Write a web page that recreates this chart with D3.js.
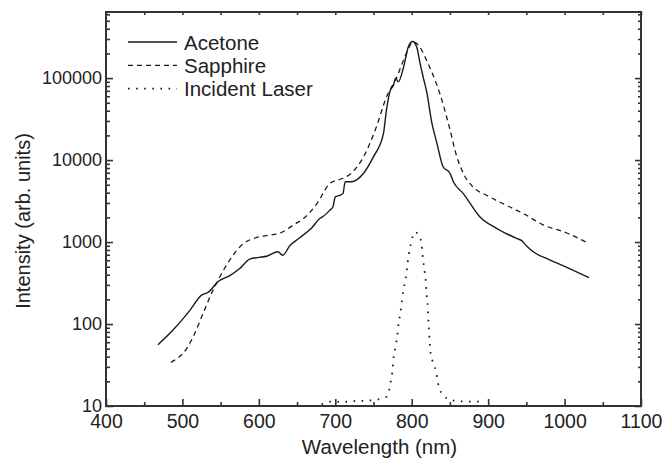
<!DOCTYPE html>
<html>
<head>
<meta charset="utf-8">
<script src="https://cdn.jsdelivr.net/npm/d3@7"></script>
<style>
  body { margin: 0; background: #fff; }
  text { font-family: "Liberation Sans", Arial, sans-serif; fill: #222; }
</style>
</head>
<body>
<div id="chart"></div>
<script>
// spectra (wavelength in nm, intensity arb. units)
var acetoneWl = [468, 488, 510, 525, 534, 547, 562, 575, 588, 600, 610, 625, 631, 641, 653, 669, 680, 684, 693, 697, 700, 706, 710, 713, 721, 737, 750, 763, 767, 772, 776, 779, 782.5, 789, 795.5, 801, 806.5, 811, 815, 820, 826, 833, 841, 850, 854.5, 867.5, 889, 911, 938, 944, 950, 959, 979, 1000, 1032];
var acetoneI = [56, 85, 148, 225, 245, 332, 390, 475, 620, 650, 670, 760, 690, 915, 1120, 1480, 1950, 2050, 2450, 2700, 3560, 3720, 3900, 5430, 5430, 6900, 11000, 21000, 41000, 71000, 81000, 100000, 90000, 132000, 240000, 280000, 240000, 150000, 103000, 65000, 29500, 16000, 8300, 6900, 5430, 3900, 2040, 1470, 1100, 1040, 900, 760, 615, 505, 367];

var sapphireWl = [485, 493, 501, 514, 527, 538, 549, 562, 580, 595, 610, 628, 649, 654, 676, 693, 710, 721, 737, 754, 767, 780, 793, 802, 813, 820, 826, 837, 849, 859, 867.5, 880, 898, 924, 946, 972, 1003, 1028];
var sapphireI = [34, 38, 44, 70, 135, 236, 377, 605, 960, 1120, 1200, 1290, 1700, 1800, 2950, 5200, 6000, 6900, 11000, 25700, 59000, 100000, 200000, 277000, 220000, 160000, 120000, 64000, 25700, 11000, 6900, 4700, 3720, 2800, 2230, 1620, 1290, 1000];

var laserWl = [682, 695, 710, 725, 740, 750, 762, 767, 770, 773, 775, 776, 778.5, 781, 782.5, 785, 787, 789, 792, 794, 796, 799, 804, 811, 813.5, 815, 817, 818.7, 819.6, 821, 821.7, 822.6, 823.5, 824.8, 827, 829, 832, 834.4, 837, 841, 845.7, 852, 865, 880, 890];
var laserI = [10.5, 11.3, 11.2, 11.5, 11.6, 11.8, 12.5, 13, 15, 21, 28, 37, 51, 70, 97, 133, 185, 258, 354, 495, 690, 950, 1320, 1150, 815, 590, 430, 310, 222, 161, 116, 84, 60, 43.5, 36, 31.6, 26, 19, 15.7, 13.6, 12.4, 11.8, 11.4, 11.3, 11.3];

var xTicks = [400, 500, 600, 700, 800, 900, 1000, 1100];
var yTicks = [10, 100, 1000, 10000, 100000];
var legendNames = ["Acetone", "Sapphire", "Incident Laser"];

var W = 671, H = 463;
var margin = { top: 12, right: 30, bottom: 57, left: 106 };
var width = W - margin.left - margin.right,
    height = H - margin.top - margin.bottom;

var svg = d3.select("#chart").append("svg")
  .attr("width", W)
  .attr("height", H);

var g = svg.append("g")
  .attr("transform", "translate(" + margin.left + "," + margin.top + ")");

var x = d3.scaleLinear().domain([400, 1100]).range([0, width]);
var y = d3.scaleLog().domain([10, 6.4e5]).range([height, 0]);

// minor ticks: 50 nm steps and 2..9 per decade
var xMinor = d3.range(450, 1100, 100);
var yMinor = [];
[10, 100, 1000, 10000, 100000].forEach(function(d) {
  for (var k = 2; k <= 9; k++) if (d * k <= 6.4e5) yMinor.push(d * k);
});

function styleAxis(sel, size) {
  sel.select(".domain").remove();
  sel.selectAll("line").attr("stroke", "#333").attr("stroke-width", 1.6);
  sel.selectAll("text").style("font-size", (size || 19.5) + "px").attr("fill", "#222");
}

// bottom
g.append("g").attr("transform", "translate(0," + height + ")")
  .call(d3.axisBottom(x).tickValues(xTicks).tickSize(-7).tickPadding(8).tickFormat(d3.format("d")))
  .call(styleAxis);
g.append("g").attr("transform", "translate(0," + height + ")")
  .call(d3.axisBottom(x).tickValues(xMinor).tickSize(-4).tickFormat(""))
  .call(styleAxis);
// top
g.append("g")
  .call(d3.axisTop(x).tickValues(xTicks.concat(xMinor)).tickSize(-3).tickFormat(""))
  .call(styleAxis);
// left
g.append("g")
  .call(d3.axisLeft(y).tickValues(yTicks).tickSize(-7).tickPadding(4).tickFormat(d3.format("d")))
  .call(styleAxis, 18);
g.append("g")
  .call(d3.axisLeft(y).tickValues(yMinor).tickSize(-4).tickFormat(""))
  .call(styleAxis);
// right
g.append("g").attr("transform", "translate(" + width + ",0)")
  .call(d3.axisRight(y).tickValues(yTicks).tickSize(-6).tickFormat(""))
  .call(styleAxis);
g.append("g").attr("transform", "translate(" + width + ",0)")
  .call(d3.axisRight(y).tickValues(yMinor).tickSize(-3).tickFormat(""))
  .call(styleAxis);

// frame
g.append("rect")
  .attr("width", width).attr("height", height)
  .attr("fill", "none").attr("stroke", "#333").attr("stroke-width", 2);

var line = d3.line()
  .x(function(d) { return x(d[0]); })
  .y(function(d) { return y(d[1]); })
  .curve(d3.curveMonotoneX);

var series = [
  { pts: d3.zip(acetoneWl, acetoneI), dash: null, w: 1.4 },
  { pts: d3.zip(sapphireWl, sapphireI), dash: "5,4", w: 1.3 },
  { pts: d3.zip(laserWl, laserI), dash: "1.6,6.5", w: 1.8 }
];

g.selectAll(".spec")
  .data(series)
  .enter()
  .append("path")
  .attr("class", "spec")
  .attr("d", function(d) { return line(d.pts); })
  .attr("fill", "none")
  .attr("stroke", "#1a1a1a")
  .attr("stroke-width", function(d) { return d.w; })
  .attr("stroke-dasharray", function(d) { return d.dash; });

// legend
var legend = svg.append("g");
var rows = legend.selectAll("g")
  .data(legendNames)
  .enter()
  .append("g")
  .attr("transform", function(d, i) { return "translate(128," + (42 + i * 23.3) + ")"; });
rows.append("line")
  .attr("x1", 0).attr("x2", 49)
  .attr("stroke", "#1a1a1a")
  .attr("stroke-width", function(d, i) { return series[i].w; })
  .attr("stroke-dasharray", function(d, i) { return series[i].dash; });
rows.append("text")
  .attr("x", 56).attr("y", 7.5)
  .style("font-size", "20.5px")
  .text(function(d) { return d; });

// axis titles
svg.append("text")
  .attr("x", margin.left + width / 2 + 6)
  .attr("y", 454)
  .attr("text-anchor", "middle")
  .style("font-size", "20.5px")
  .text("Wavelength (nm)");

svg.append("text")
  .attr("transform", "translate(30,221) rotate(-90)")
  .attr("text-anchor", "middle")
  .style("font-size", "20px")
  .text("Intensity (arb. units)");
</script>
</body>
</html>
